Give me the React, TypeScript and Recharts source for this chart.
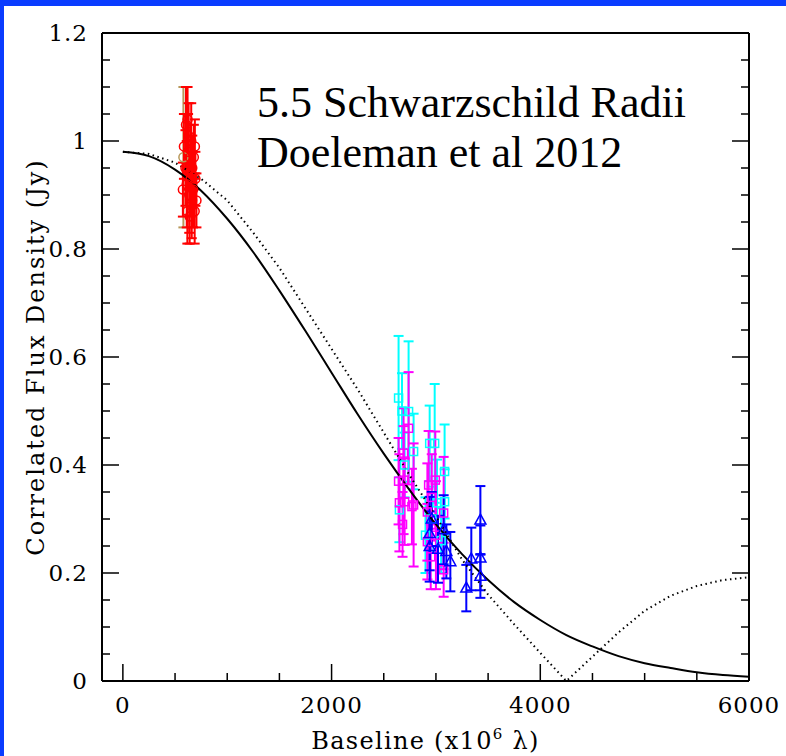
import { ComposedChart, ErrorBar, Line, Scatter, XAxis, YAxis } from 'recharts';

// axis ticks
const xTicks = [0, 500, 1000, 1500, 2000, 2500, 3000, 3500, 4000, 4500, 5000, 5500, 6000];
const xLabels = [0, 2000, 4000, 6000];
const yTicks = [
  0, 0.05, 0.1, 0.15, 0.2, 0.25, 0.3, 0.35, 0.4, 0.45, 0.5, 0.55, 0.6, 0.65, 0.7, 0.75, 0.8, 0.85, 0.9,
  0.95, 1, 1.05, 1.1, 1.15, 1.2,
];
const yLabels = [0, 0.2, 0.4, 0.6, 0.8, 1, 1.2];

// model curves (baseline, flux)
const gaussU = [0, 250, 500, 750, 1000, 1250, 1500, 1750, 2000, 2250, 2500, 2750, 3000, 3250, 3500, 3750, 4000, 4250, 4500, 4750, 5000, 5250, 5500, 5750, 6000];
const gaussV = [0.98, 0.972, 0.947, 0.908, 0.856, 0.794, 0.723, 0.648, 0.571, 0.494, 0.421, 0.353, 0.29, 0.235, 0.187, 0.146, 0.113, 0.085, 0.064, 0.046, 0.033, 0.024, 0.016, 0.011, 0.008];
const ringU = gaussU;
const ringV = [0.98, 0.976, 0.96, 0.93, 0.89, 0.83, 0.765, 0.69, 0.615, 0.54, 0.46, 0.38, 0.305, 0.225, 0.16, 0.105, 0.052, 0.0, 0.045, 0.09, 0.13, 0.158, 0.176, 0.187, 0.192];

// measurements: baseline, flux, 1-sigma error
const redU = [575, 585, 600, 605, 612, 618, 620, 625, 630, 636, 640, 645, 650, 655, 660, 665, 672, 680, 688, 690, 695, 705];
const redV = [0.91, 0.99, 0.95, 1.03, 0.92, 0.87, 1.04, 0.98, 1.01, 0.9, 0.86, 0.97, 0.93, 1.0, 0.88, 0.95, 0.91, 0.97, 0.87, 0.99, 0.93, 0.89];
const redE = [0.05, 0.06, 0.07, 0.07, 0.08, 0.06, 0.06, 0.07, 0.06, 0.07, 0.05, 0.06, 0.07, 0.07, 0.06, 0.06, 0.07, 0.06, 0.06, 0.05, 0.05, 0.05];

const tanU = [580];
const tanV = [0.97];
const tanE = [0.13];

const cyanU = [2642, 2650, 2675, 2700, 2738, 2786, 2900, 2940, 2960, 2988, 3010, 3050, 3083, 3083];
const cyanV = [0.524, 0.317, 0.5, 0.4, 0.499, 0.425, 0.27, 0.44, 0.3, 0.44, 0.33, 0.26, 0.388, 0.332];
const cyanE = [0.115, 0.06, 0.07, 0.06, 0.13, 0.07, 0.07, 0.07, 0.06, 0.11, 0.08, 0.06, 0.087, 0.06];

const magU = [2642, 2650, 2680, 2690, 2690, 2700, 2738, 2770, 2786, 2918, 2918, 2930, 2950, 2960, 2994, 3000, 3074, 3074];
const magV = [0.37, 0.33, 0.29, 0.422, 0.372, 0.332, 0.468, 0.323, 0.326, 0.313, 0.258, 0.363, 0.23, 0.34, 0.372, 0.27, 0.311, 0.206];
const magE = [0.08, 0.09, 0.06, 0.083, 0.1, 0.08, 0.104, 0.07, 0.114, 0.09, 0.07, 0.1, 0.06, 0.08, 0.09, 0.1, 0.104, 0.05];

const blueU = [2940, 2940, 2960, 3020, 3074, 3100, 3138, 3291, 3339, 3426, 3426, 3426];
const blueV = [0.273, 0.249, 0.3, 0.244, 0.28, 0.24, 0.221, 0.172, 0.226, 0.298, 0.228, 0.194];
const blueE = [0.068, 0.065, 0.05, 0.062, 0.064, 0.05, 0.055, 0.043, 0.058, 0.063, 0.06, 0.04];

const pts = (u: number[], v: number[], e: number[]) => u.map((x, i) => ({ u: x, v: v[i], e: e[i] }));
const curve = (u: number[], v: number[]) => u.map((x, i) => ({ u: x, v: v[i] }));

const FONT = '"DejaVu Serif", serif';
const near = (a: number, list: number[]) => list.some((b) => Math.abs(a - b) < 1e-6);

const BottomTick = (p: any) => {
  const major = near(p.payload.value, xLabels);
  return (
    <g>
      <line x1={p.x} x2={p.x} y1={p.y} y2={p.y - (major ? 17 : 8)} stroke="#000" strokeWidth={1.5} />
      {major && (
        <text x={p.x} y={p.y + 32} textAnchor="middle" fontFamily={FONT} fontSize={23} letterSpacing={1} fill="#000">
          {p.payload.value}
        </text>
      )}
    </g>
  );
};

const TopTick = (p: any) => {
  const major = near(p.payload.value, xLabels);
  return <line x1={p.x} x2={p.x} y1={p.y} y2={p.y + (major ? 17 : 8)} stroke="#000" strokeWidth={1.5} />;
};

const LeftTick = (p: any) => {
  const major = near(p.payload.value, yLabels);
  return (
    <g>
      <line x1={p.x} x2={p.x + (major ? 17 : 8)} y1={p.y} y2={p.y} stroke="#000" strokeWidth={1.5} />
      {major && (
        <text x={p.x - 14} y={p.y + 8} textAnchor="end" fontFamily={FONT} fontSize={23} letterSpacing={1} fill="#000">
          {String(Math.round(p.payload.value * 10) / 10)}
        </text>
      )}
    </g>
  );
};

const RightTick = (p: any) => {
  const major = near(p.payload.value, yLabels);
  return <line x1={p.x} x2={p.x - (major ? 17 : 8)} y1={p.y} y2={p.y} stroke="#000" strokeWidth={1.5} />;
};

const marker = (kind: 'circle' | 'square' | 'triangle', color: string) => (p: any) => {
  const { cx, cy } = p;
  if (kind === 'circle') return <circle cx={cx} cy={cy} r={4.5} fill="none" stroke={color} strokeWidth={1.5} />;
  if (kind === 'square')
    return <rect x={cx - 4} y={cy - 4} width={8} height={8} fill="none" stroke={color} strokeWidth={1.5} />;
  return (
    <polygon
      points={`${cx},${cy - 6} ${cx - 5.5},${cy + 4} ${cx + 5.5},${cy + 4}`}
      fill="none"
      stroke={color}
      strokeWidth={1.5}
    />
  );
};

const series = [
  { name: 'tan', data: pts(tanU, tanV, tanE), color: '#b8985a', kind: 'circle' as const },
  { name: 'red', data: pts(redU, redV, redE), color: '#ff0000', kind: 'circle' as const },
  { name: 'cyan', data: pts(cyanU, cyanV, cyanE), color: '#00ffff', kind: 'square' as const },
  { name: 'magenta', data: pts(magU, magV, magE), color: '#ff00ff', kind: 'square' as const },
  { name: 'blue', data: pts(blueU, blueV, blueE), color: '#0000ff', kind: 'triangle' as const },
];

export default function App() {
  return (
    <div style={{ position: 'absolute', left: 0, top: 0, width: 786, height: 756, background: '#0a3cff' }}>
      <div style={{ position: 'absolute', left: 4, top: 6, right: 0, bottom: 0, background: '#fff' }} />
      <div style={{ position: 'absolute', left: 0, top: 0 }}>
        <ComposedChart width={786} height={756} margin={{ top: 23, right: 27, bottom: 25, left: 42 }}>
          <XAxis
            dataKey="u"
            type="number"
            domain={[-200, 6000]}
            ticks={xTicks}
            interval={0}
            height={50}
            tickSize={0}
            tickMargin={0}
            tickLine={false}
            tick={<BottomTick />}
            axisLine={{ stroke: '#000', strokeWidth: 2 }}
            allowDataOverflow
            label={{
              content: ({ viewBox }: any) => (
                <text
                  x={viewBox.x + viewBox.width / 2}
                  y={viewBox.y + 68}
                  textAnchor="middle"
                  fontFamily={FONT}
                  fontSize={24}
                  letterSpacing={1.3}
                  fill="#000"
                >
                  Baseline (x10
                  <tspan fontSize={15} dy={-10}>
                    6
                  </tspan>
                  <tspan dy={10}> λ)</tspan>
                </text>
              ),
            }}
          />
          <XAxis
            xAxisId="top"
            orientation="top"
            type="number"
            domain={[-200, 6000]}
            ticks={xTicks}
            interval={0}
            height={10}
            tickSize={0}
            tickMargin={0}
            tickLine={false}
            tick={<TopTick />}
            axisLine={{ stroke: '#000', strokeWidth: 2 }}
            allowDataOverflow
          />
          <YAxis
            type="number"
            domain={[0, 1.2]}
            ticks={yTicks}
            interval={0}
            width={60}
            tickSize={0}
            tickMargin={0}
            tickLine={false}
            tick={<LeftTick />}
            axisLine={{ stroke: '#000', strokeWidth: 2 }}
            allowDataOverflow
            label={{
              content: ({ viewBox }: any) => {
                const x = viewBox.x - 6;
                const y = viewBox.y + viewBox.height / 2;
                return (
                  <text
                    x={x}
                    y={y}
                    transform={`rotate(-90 ${x} ${y})`}
                    textAnchor="middle"
                    dominantBaseline="central"
                    fontFamily={FONT}
                    fontSize={24}
                    letterSpacing={2}
                    fill="#000"
                  >
                    Correlated Flux Density (Jy)
                  </text>
                );
              },
            }}
          />
          <YAxis
            yAxisId="right"
            orientation="right"
            type="number"
            domain={[0, 1.2]}
            ticks={yTicks}
            interval={0}
            width={10}
            tickSize={0}
            tickMargin={0}
            tickLine={false}
            tick={<RightTick />}
            axisLine={{ stroke: '#000', strokeWidth: 2 }}
            allowDataOverflow
          />
          {series.map((s) => (
            <Scatter
              key={s.name}
              data={s.data}
              dataKey="v"
              shape={marker(s.kind, s.color)}
              isAnimationActive={false}
            >
              <ErrorBar dataKey="e" direction="y" width={5} stroke={s.color} strokeWidth={2} />
            </Scatter>
          ))}
          <Line
            data={curve(ringU, ringV)}
            dataKey="v"
            type="linear"
            stroke="#000"
            strokeWidth={2}
            strokeDasharray="1.5 3.5"
            dot={false}
            isAnimationActive={false}
          />
          <Line
            data={curve(gaussU, gaussV)}
            dataKey="v"
            type="monotone"
            stroke="#000"
            strokeWidth={2}
            dot={false}
            isAnimationActive={false}
          />
        </ComposedChart>
      </div>
      <div
        style={{
          position: 'absolute',
          left: 257,
          top: 78,
          fontFamily: '"Liberation Serif", serif',
          fontSize: 44,
          lineHeight: '50px',
          color: '#000',
          whiteSpace: 'nowrap',
        }}
      >
        <div>5.5 Schwarzschild Radii</div>
        <div>Doeleman et al 2012</div>
      </div>
    </div>
  );
}
